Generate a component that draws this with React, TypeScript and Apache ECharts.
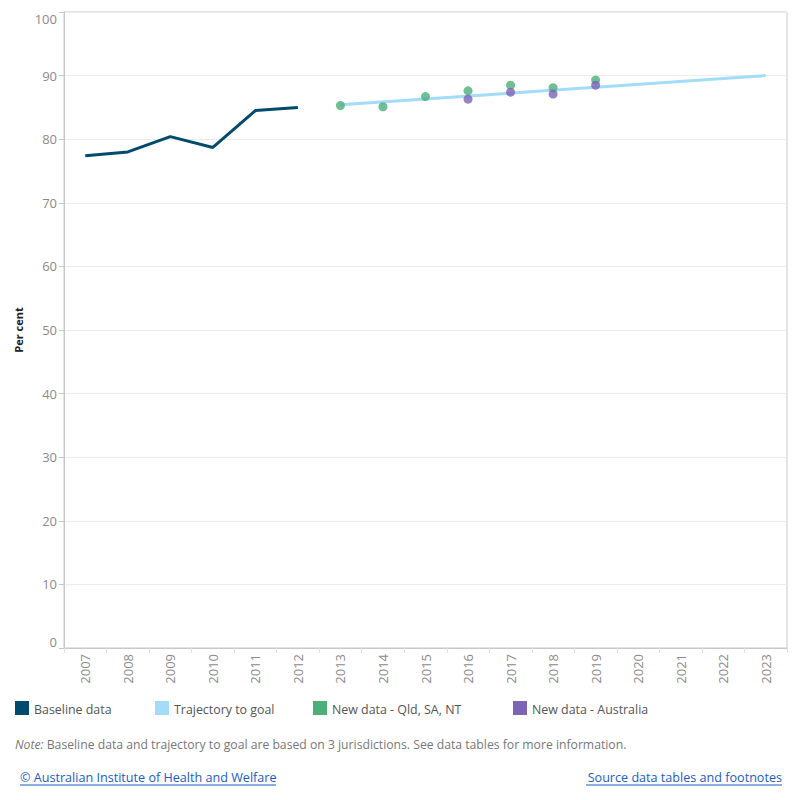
import React, { useEffect, useRef } from "react";
import * as echarts from "echarts";

const years = [
  "2007", "2008", "2009", "2010", "2011", "2012", "2013", "2014", "2015",
  "2016", "2017", "2018", "2019", "2020", "2021", "2022", "2023",
];

// Baseline data (3 jurisdictions), 2007–2012
const baseline = [77.4, 78.0, 80.4, 78.7, 84.5, 85.0, null, null, null, null, null, null, null, null, null, null, null];

// Trajectory to goal: straight line from 2013 to 2023
const trajectory = [null, null, null, null, null, null, 85.4, null, null, null, null, null, null, null, null, null, 90.0];

// New data - Qld, SA, NT
const newDataJur = [null, null, null, null, null, null, 85.3, 85.1, 86.7, 87.6, 88.5, 88.1, 89.3, null, null, null, null];

// New data - Australia
const newDataAus = [null, null, null, null, null, null, null, null, null, 86.3, 87.4, 87.1, 88.5, null, null, null, null];

const yTicks = [0, 10, 20, 30, 40, 50, 60, 70, 80, 90, 100];

const legendItems = [
  { label: "Baseline data", color: "#004a6d", x: 15 },
  { label: "Trajectory to goal", color: "#a2dcf9", x: 155 },
  { label: "New data - Qld, SA, NT", color: "#4cae79", x: 313 },
  { label: "New data - Australia", color: "#7b63b5", x: 513 },
];

const FONT = "'Open Sans', 'Noto Sans', sans-serif";

export default function App() {
  const ref = useRef<HTMLDivElement>(null);

  useEffect(() => {
    if (!ref.current) return;
    const chart = echarts.init(ref.current, null, { renderer: "svg" });

    const legendGraphics: any[] = [];
    legendItems.forEach((it) => {
      legendGraphics.push({
        type: "rect",
        shape: { x: it.x, y: 701, width: 14, height: 14 },
        style: { fill: it.color },
      });
      legendGraphics.push({
        type: "text",
        x: it.x + 19,
        y: 709,
        style: {
          text: it.label,
          fill: "#555555",
          font: `12.4px ${FONT}`,
          verticalAlign: "middle",
        },
      });
    });

    const linkColor = "#1a5cc4";

    chart.setOption({
      animation: false,
      backgroundColor: "#ffffff",
      grid: {
        left: 64,
        right: 13,
        top: 12,
        bottom: 152,
        show: true,
        borderColor: "#c8c8c8",
        borderWidth: 1,
      },
      xAxis: {
        type: "category",
        data: years,
        boundaryGap: true,
        axisLine: { lineStyle: { color: "#c8c8c8" } },
        axisTick: { show: true, length: 5, lineStyle: { color: "#e2e2e2" } },
        axisLabel: {
          rotate: 90,
          color: "#8a8a8a",
          fontSize: 13,
          fontFamily: FONT,
          margin: 6,
        },
        splitLine: { show: false },
      },
      yAxis: {
        type: "value",
        min: yTicks[0],
        max: yTicks[yTicks.length - 1],
        interval: 10,
        name: "Per cent",
        nameLocation: "middle",
        nameRotate: 90,
        nameGap: 37,
        nameTextStyle: {
          color: "#222222",
          fontWeight: "bold",
          fontSize: 11,
          fontFamily: FONT,
        },
        axisLine: { show: true, lineStyle: { color: "#c8c8c8" } },
        axisTick: { show: true, length: 5, lineStyle: { color: "#c8c8c8" } },
        axisLabel: {
          color: "#8a8a8a",
          fontSize: 13,
          fontFamily: FONT,
          margin: 7,
          verticalAlignMinLabel: "bottom",
          verticalAlignMaxLabel: "top",
        },
        splitLine: { show: true, lineStyle: { color: "#ececec", width: 1 } },
      },
      series: [
        {
          name: "Baseline data",
          type: "line",
          data: baseline,
          symbol: "none",
          lineStyle: { color: "#004a6d", width: 3 },
          z: 2,
        },
        {
          name: "Trajectory to goal",
          type: "line",
          data: trajectory,
          connectNulls: true,
          symbol: "none",
          lineStyle: { color: "#a2dcf9", width: 3 },
          z: 2,
        },
        {
          name: "New data - Qld, SA, NT",
          type: "scatter",
          data: newDataJur,
          symbol: "circle",
          symbolSize: 9,
          itemStyle: { color: "#4cae79" },
          z: 3,
        },
        {
          name: "New data - Australia",
          type: "scatter",
          data: newDataAus,
          symbol: "circle",
          symbolSize: 9,
          itemStyle: { color: "#7b63b5" },
          z: 4,
        },
      ],
      graphic: [
        ...legendGraphics,
        {
          type: "text",
          x: 15,
          y: 744,
          style: {
            text: "{i|Note:} Baseline data and trajectory to goal are based on 3 jurisdictions. See data tables for more information.",
            verticalAlign: "middle",
            font: `12.2px ${FONT}`,
            fill: "#777777",
            rich: {
              i: { fontStyle: "italic", fontSize: 12.2, fontFamily: FONT, fill: "#777777" },
            },
          },
        },
        {
          type: "text",
          x: 20,
          y: 777,
          style: {
            text: "© Australian Institute of Health and Welfare",
            font: `12.6px ${FONT}`,
            fill: linkColor,
            verticalAlign: "middle",
          },
        },
        {
          type: "line",
          shape: { x1: 20, y1: 785, x2: 276, y2: 785 },
          style: { stroke: linkColor, lineWidth: 1 },
        },
        {
          type: "text",
          x: 782,
          y: 777,
          style: {
            text: "Source data tables and footnotes",
            font: `12.6px ${FONT}`,
            fill: linkColor,
            align: "right",
            verticalAlign: "middle",
          },
        },
        {
          type: "line",
          shape: { x1: 586, y1: 785, x2: 782, y2: 785 },
          style: { stroke: linkColor, lineWidth: 1 },
        },
      ],
    });

    return () => chart.dispose();
  }, []);

  return <div ref={ref} style={{ width: 800, height: 800, margin: -8 }} />;
}
